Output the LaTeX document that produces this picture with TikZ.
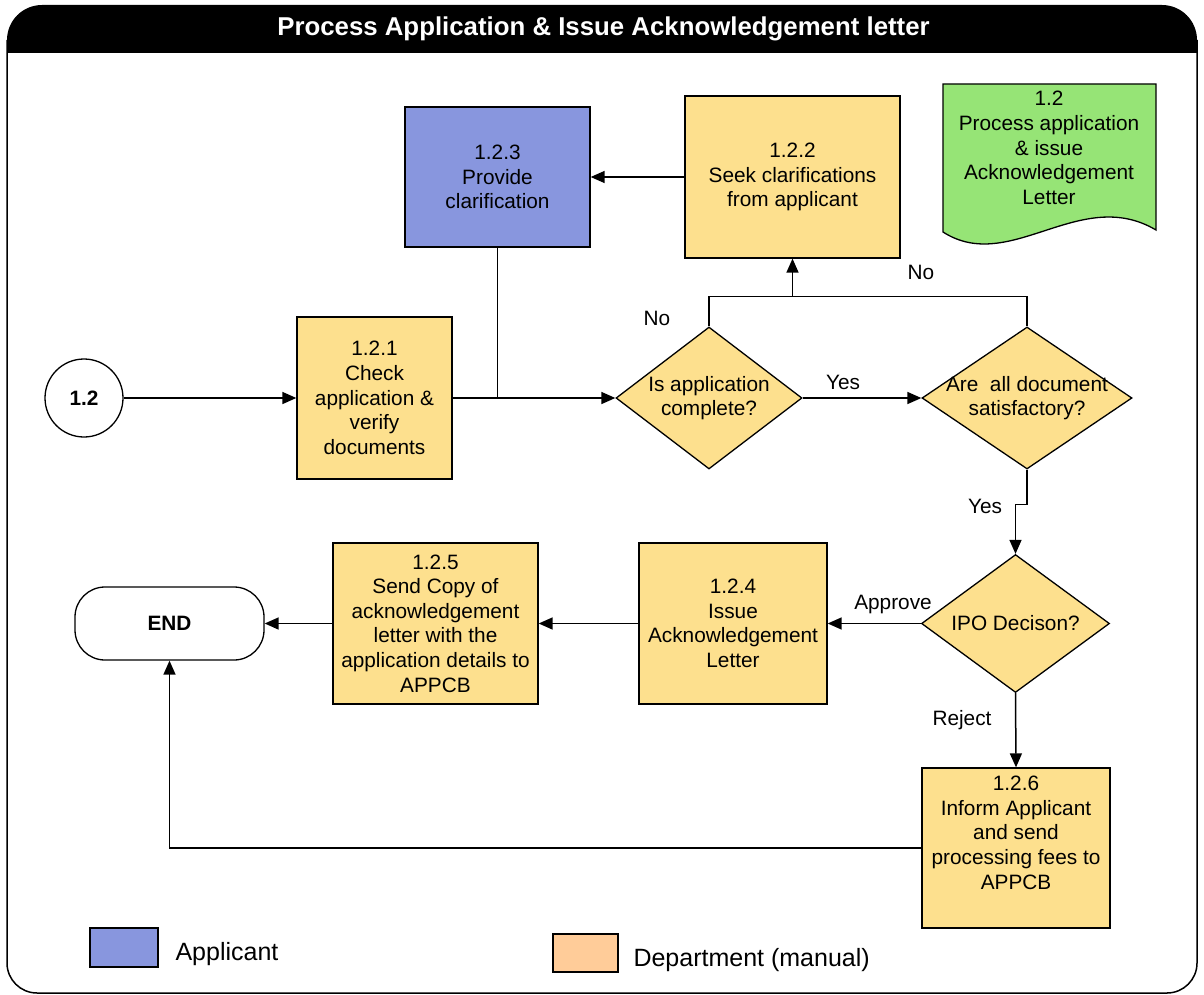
\documentclass[tikz,border=0pt]{standalone}
\usepackage{fontspec}
\setmainfont{Liberation Sans}
\usetikzlibrary{arrows.meta,shapes.geometric}
\definecolor{dept}{RGB}{253,224,142}
\definecolor{appl}{RGB}{136,150,222}
\definecolor{docg}{RGB}{150,228,118}
\definecolor{legor}{RGB}{255,204,153}
\newcommand{\bodyfs}{\fontsize{20.8}{24.6}\selectfont}
\tikzset{
  procbox/.style={draw, line width=1.3pt, fill=dept, align=center, font=\bodyfs, inner sep=0pt},
  decbox/.style={draw, line width=1.3pt, fill=dept, diamond, inner sep=0pt},
  dectext/.style={align=center, font=\bodyfs},
  lbl/.style={font=\bodyfs},
  conn/.style={line width=1.5pt},
  arr/.style={line width=1.5pt, -{Triangle[length=14pt,width=12pt]}},
}
\begin{document}
\begin{tikzpicture}[x=1pt,y=-1pt]
\useasboundingbox (0,0) rectangle (1204,995);
% frame
\draw[line width=1.5pt, rounded corners=30] (7,40) -- (7,993) -- (1197,993) -- (1197,40);
\begin{scope}
\clip (0,0) rectangle (1204,53);
\fill[rounded corners=35] (7,5) rectangle (1197,100);
\end{scope}
\node[text=white, font=\fontsize{25.8}{28}\selectfont\bfseries] (title) at (603.5,29) {Process Application \& Issue Acknowledgement letter};

% document shape
\draw[line width=1.3pt, fill=docg] (943,84) -- (1156,84) -- (1156,230) .. controls (1080,185) and (1010,275) .. (943,232) -- cycle;
\node[align=center, font=\bodyfs] (doc) at (1049,148) {1.2\\Process application\\\& issue\\Acknowledgement\\Letter};

% start / end
\node[draw, line width=1.3pt, circle, minimum size=78pt, inner sep=0pt, font=\fontsize{20.8}{24}\selectfont\bfseries] (c12) at (84,398) {1.2};
\node[draw, line width=1.3pt, rounded corners=30pt, minimum width=189pt, minimum height=73pt, inner sep=0pt, font=\fontsize{20.8}{24}\selectfont\bfseries] (end) at (169.5,623.5) {END};

% process boxes
\node[procbox, minimum width=155pt, minimum height=162pt] (b121) at (374.5,398) {1.2.1\\Check\\application \&\\verify\\documents};
\node[procbox, fill=appl, minimum width=185pt, minimum height=140pt] (b123) at (497.5,177) {1.2.3\\Provide\\clarification};
\node[procbox, minimum width=215pt, minimum height=162pt] (b122) at (792.5,177) {1.2.2\\Seek clarifications\\from applicant};
\node[procbox, minimum width=188pt, minimum height=161pt] (b124) at (733,623.5) {1.2.4\\Issue\\Acknowledgement\\Letter};
\node[procbox, minimum width=205pt, minimum height=161pt] (b125) at (435.5,623.5) {1.2.5\\Send Copy of\\acknowledgement\\letter with the\\application details to\\APPCB};
\node[procbox, minimum width=188pt, minimum height=160pt] (b126) at (1016,848) {1.2.6\\Inform Applicant\\and send\\processing fees to\\APPCB\\[6pt]};

% decisions
\node[decbox, minimum width=186pt, minimum height=142pt] (d1) at (709,398) {};
\node[dectext] (d1t) at (d1) {Is application\\complete?};
\node[decbox, minimum width=210pt, minimum height=142pt] (d2) at (1027,398) {};
\node[dectext] (d2t) at (d2) {Are\ \ all document\\satisfactory?};
\node[decbox, minimum width=188pt, minimum height=138pt] (d3) at (1015.5,623.5) {};
\node[dectext] (d3t) at (d3) {IPO Decison?};

% connectors
\draw[arr] (c12.east) -- (b121.west);
\draw[arr] (b121.east) -- (d1.west);
\draw[conn] (b123.south) -- (b123.south |- d1.west);
\draw[arr] (b122.west) -- (b123.east);
\draw[conn] (d1.north) -- ++(0,-30) coordinate (ntop) -| (d2.north);
\draw[arr] (b122.south |- ntop) -- (b122.south);
\draw[arr] (d1.east) -- (d2.west);
\draw[arr] (d2.south) -- ++(0,35) -| (d3.north);
\draw[arr] (d3.west) -- (b124.east);
\draw[arr] (b124.west) -- (b125.east);
\draw[arr] (b125.west) -- (end.east);
\draw[arr] (d3.south) -- (b126.north);
\draw[arr] (b126.west) -| (end.south);

% labels
\node[lbl] (lno1) at (657,318) {No};
\node[lbl] (lno2) at (921,272) {No};
\node[lbl] (lyes1) at (843,382) {Yes};
\node[lbl] (lyes2) at (985,506) {Yes};
\node[lbl] (lapp) at (893,604) {Approve};
\node[lbl] (lrej) at (962,720) {Reject};

% legend
\draw[line width=1.3pt, fill=appl] (90,928) rectangle (158,967);
\node[anchor=west, font=\fontsize{25}{28}\selectfont] (lgA) at (172,954) {Applicant};
\draw[line width=1.3pt, fill=legor] (553,934) rectangle (618,972);
\node[anchor=west, font=\fontsize{25}{28}\selectfont] (lgD) at (630,960) {Department (manual)};
\end{tikzpicture}
\end{document}
